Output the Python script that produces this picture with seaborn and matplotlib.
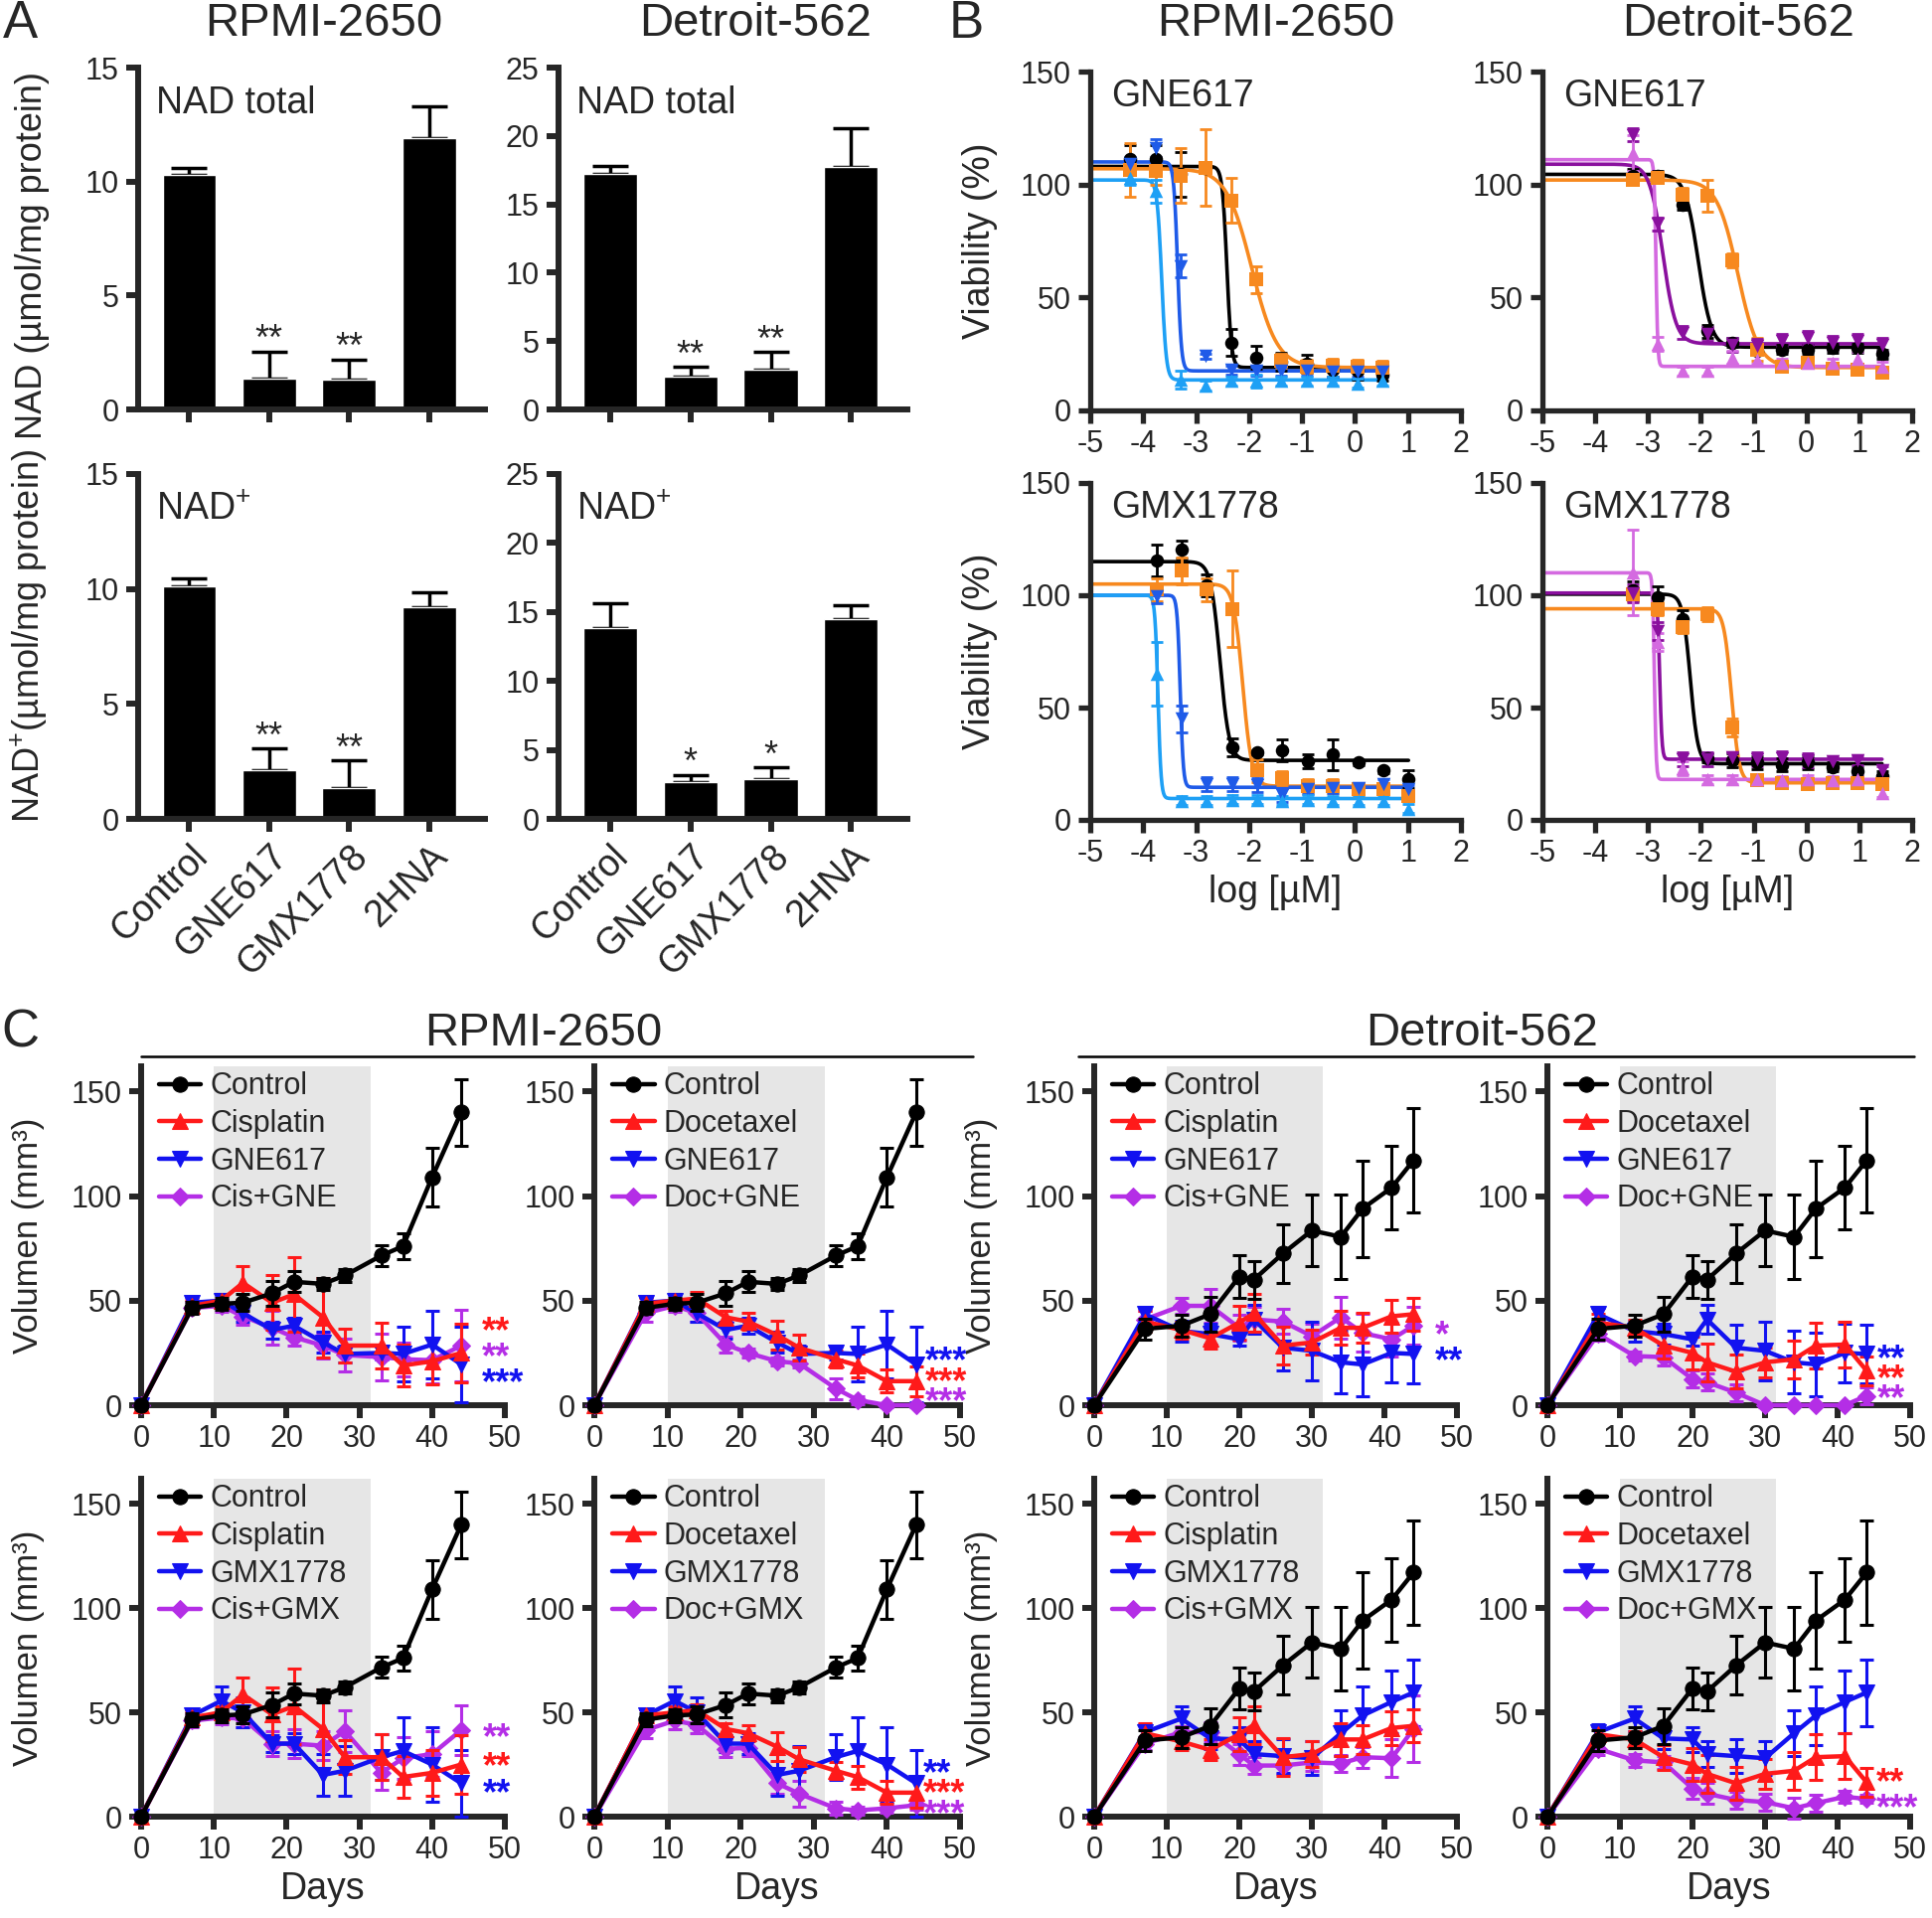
import numpy as np
import matplotlib
matplotlib.use("Agg")
import matplotlib.pyplot as plt
from matplotlib.lines import Line2D
import seaborn as sns

W, H = 1944, 1930

# ---------------- panel A: NAD levels ----------------
nad_groups = ['Control', 'GNE617', 'GMX1778', '2HNA']
nad_total_rpmi = [10.3, 1.35, 1.3, 11.9]
nad_total_rpmi_err = [0.3, 1.2, 0.9, 1.4]
nad_total_det = [17.2, 2.4, 2.9, 17.7]
nad_total_det_err = [0.6, 0.7, 1.3, 2.9]
nadp_rpmi = [10.1, 2.1, 1.35, 9.2]
nadp_rpmi_err = [0.35, 0.95, 1.2, 0.65]
nadp_det = [13.8, 2.7, 2.9, 14.5]
nadp_det_err = [1.8, 0.5, 0.85, 1.0]
stars_two = ['', '**', '**', '']
stars_one = ['', '*', '*', '']

# ---------------- panel B: dose response ----------------
dose_rpmi_gne = [-4.25, -3.77, -3.30, -2.82, -2.34, -1.86, -1.39, -0.91, -0.43, 0.04, 0.52]
dose_rpmi_gmx = [-3.75, -3.28, -2.80, -2.32, -1.85, -1.37, -0.89, -0.42, 0.06, 0.53, 1.01]
dose_det = [-3.28, -2.81, -2.34, -1.87, -1.40, -0.93, -0.46, 0.02, 0.49, 0.96, 1.43]

# RPMI-2650 / GNE617
v_rg_black = [111.5, 111.5, 104.5, 107.5, 30, 23.5, 21.5, 20.5, 18, 17.5, 16]
e_rg_black = [6, 6, 10, 2, 6, 5, 4, 4, 3, 4, 3]
v_rg_orange = [106.5, 106, 104, 107.5, 93, 58, 22, 19.5, 20, 19.5, 19]
e_rg_orange = [12, 6, 12, 17, 10, 6, 3, 3, 3, 3, 3]
v_rg_blue = [109, 116, 64, 24, 18, 17.5, 17.5, 17.5, 17, 17, 17]
e_rg_blue = [3, 4, 5, 1, 2, 2, 2, 2, 2, 2, 2]
v_rg_lblue = [103, 97, 13.5, 11, 13, 13, 13, 13, 13, 12, 13]
e_rg_lblue = [3, 5, 4, 2, 2, 3, 2, 2, 2, 2, 2]
# fit parameters: top, bottom, logIC50, hill
fit_rg = [(108, 19, -2.42, 10), (107, 19, -1.95, 1.8), (110, 17.5, -3.35, 12), (102, 13.5, -3.65, 10)]

# Detroit-562 / GNE617
v_dg_black = [104, 104, 91, 35, 30, 26.5, 27, 27, 27.5, 27.5, 25]
e_dg_black = [3, 2, 2, 3, 2, 2, 2, 2, 2, 2, 2]
v_dg_orange = [102, 103, 95.5, 95, 66.5, 27, 19.5, 21, 18.5, 18, 16.5]
e_dg_orange = [2, 2, 3, 7, 3, 5, 2, 2, 2, 2, 2]
v_dg_purple = [122, 82.5, 34.5, 34, 29, 28.5, 31, 32, 30, 31, 29]
e_dg_purple = [3, 3, 3, 3, 3, 3, 3, 3, 3, 3, 3]
v_dg_orchid = [114, 29.5, 17.5, 17.5, 23.5, 22.5, 21, 21, 21, 23, 19.5]
e_dg_orchid = [8, 3, 2, 2, 3, 2, 2, 2, 2, 3, 2]
fit_dg = [(104.5, 28, -2.05, 3.5), (102, 19, -1.3, 2.2), (109, 29.5, -2.72, 3.5), (111, 19.5, -2.85, 25)]

# RPMI-2650 / GMX1778
v_rx_black = [115.5, 120.5, 104.5, 32.5, 30, 31, 26, 29, 25.5, 22, 18]
e_rx_black = [7, 4, 5, 4, 1, 5, 3, 7, 1, 1, 4]
v_rx_orange = [102.5, 111, 102.5, 94, 22, 18.5, 15, 15, 13.5, 13.5, 10.5]
e_rx_orange = [5, 6, 5, 17, 5, 3, 3, 3, 3, 2, 2]
v_rx_blue = [99.5, 45, 16, 16, 15.5, 11, 13.5, 14, 14, 16, 13.5]
e_rx_blue = [3, 6, 3, 3, 3, 3, 2, 2, 2, 2, 2]
v_rx_lblue = [65, 8.5, 8.5, 9, 9, 8.5, 9, 8.5, 8.5, 8.5, 5]
e_rx_lblue = [14, 2, 2, 2, 2, 2, 2, 2, 2, 2, 2]
fit_rx = [(115, 26.5, -2.55, 5), (105, 15, -2.12, 5), (100, 14.5, -3.3, 15), (100, 9.5, -3.72, 15)]

# Detroit-562 / GMX1778
v_dx_black = [102, 99, 89.5, 27.5, 26.5, 25.5, 24.5, 25.5, 23.5, 21.5, 19.5]
e_dx_black = [4, 5, 4, 2, 3, 3, 3, 3, 2, 2, 2]
v_dx_orange = [100.5, 94, 86, 91.5, 41, 17.5, 16.5, 16, 16.5, 16.5, 16]
e_dx_orange = [3, 3, 3, 3, 4, 2, 2, 2, 2, 2, 2]
v_dx_purple = [101, 84, 27, 27, 28, 27, 27.5, 26.5, 26, 26.5, 22]
e_dx_purple = [4, 4, 3, 3, 2, 3, 3, 3, 2, 2, 2]
v_dx_orchid = [110, 79, 23, 18, 18, 18, 17.5, 18, 17.5, 18, 12]
e_dx_orchid = [19, 4, 3, 2, 2, 2, 2, 2, 2, 2, 2]
fit_dx = [(100.5, 25, -2.2, 6), (94, 16.5, -1.42, 6), (101, 27, -2.78, 20), (110, 18, -2.88, 25)]

# ---------------- panel C: tumour growth ----------------
days_rpmi = [0, 7, 11, 14, 18, 21, 25, 28, 33, 36, 40, 44]
days_det = [0, 7, 12, 16, 20, 22, 26, 30, 34, 37, 41, 44]

ctrl_rpmi = [0, 46.5, 48.5, 49, 53.5, 59, 58, 62, 71.5, 76, 109, 140]
ctrl_rpmi_err = [0, 3, 3, 4, 6, 5, 3, 3, 5, 6, 14, 16]
cis_rpmi = [0, 47.5, 50, 58.5, 49, 53, 42, 28.5, 28.5, 19, 21, 25]
cis_rpmi_err = [0, 3, 3, 8, 13, 18, 19, 8, 11, 10, 11, 14]
doc_rpmi = [0, 48.5, 50, 51, 42, 40, 33.5, 27.5, 22, 19, 11.5, 11.5]
doc_rpmi_err = [0, 3, 3, 3, 3, 4, 7, 6, 4, 5.5, 5.5, 7]
gne_rpmi = [0, 49, 50, 44, 36, 38, 30, 24.5, 25, 24.5, 29, 19.5]
gne_rpmi_err = [0, 3, 3, 4, 4, 4, 5, 4, 3, 13, 16, 18]
cisgne_rpmi = [0, 46.5, 47.5, 42.5, 37, 32.5, 28.5, 24, 23, 22, 21.5, 28.5]
cisgne_rpmi_err = [0, 3, 3, 4, 8, 4, 6, 8, 11, 8, 11, 17]
docgne_rpmi = [0, 44, 47.5, 44, 29, 25, 21, 20, 8, 2.5, 0, 0]
docgne_rpmi_err = [0, 4, 3, 4, 4, 2, 2, 2, 5, 2, 1, 1]
gmx_rpmi = [0, 48.5, 55.5, 50, 35, 35, 20, 22, 28.5, 31.5, 25, 16]
gmx_rpmi_err = [0, 3, 7, 7, 4, 5, 10, 12, 11, 16, 18, 16]
cisgmx_rpmi = [0, 46, 47.5, 47, 35, 35, 34, 41, 21, 28, 30, 41.5]
cisgmx_rpmi_err = [0, 3, 3, 4, 6, 7, 7, 10, 8, 10, 11, 12]
docgmx_rpmi = [0, 41.5, 46, 44, 32.5, 33, 16, 11, 4, 3, 4, 5.5]
docgmx_rpmi_err = [0, 4, 4, 4, 4, 4, 5, 6, 3, 2, 2, 2]

ctrl_det = [0, 36.5, 38, 43.5, 61.5, 60, 72.5, 83.5, 80.5, 94, 104, 117]
ctrl_det_err = [0, 5, 5, 8.5, 10, 9, 14, 17, 20, 23, 20, 25]
cis_det = [0, 40, 36, 32, 39.5, 44, 28.5, 30, 37, 37, 42.5, 43.5]
cis_det_err = [0, 5, 4, 5, 8, 9, 9, 6, 8, 7, 8, 8]
doc_det = [0, 39.5, 37, 28.5, 25, 20.5, 16, 20.5, 22, 28.5, 29, 16.5]
doc_det_err = [0, 4, 4, 6, 8, 9, 8, 7, 9, 11, 11, 7]
gne_det = [0, 43.5, 35.5, 34, 31.5, 41, 27.5, 26, 20.5, 19.5, 25, 24.5]
gne_det_err = [0, 3, 5, 5, 3, 7, 11, 14, 15, 15, 14, 14]
cisgne_det = [0, 41, 47.5, 47.5, 37, 41, 40, 33, 42, 34.5, 31.5, 38]
cisgne_det_err = [0, 4, 4, 8, 6, 6, 6, 6, 10, 9, 8, 9]
docgne_det = [0, 34, 23.5, 23, 12.5, 11, 6, 0, 0, 0, 0, 4.5]
docgne_det_err = [0, 3, 2, 4, 4, 4, 4, 1, 0, 0, 0, 4]
gmx_det = [0, 40.5, 47, 37.5, 37, 30, 29, 28, 40, 48.5, 55, 59.5]
gmx_det_err = [0, 4, 6, 5, 6, 6, 8, 8, 11, 14, 15, 16]
cisgmx_det = [0, 35, 40.5, 40.5, 30, 24.5, 24.5, 26, 25.5, 28.5, 28, 42]
cisgmx_det_err = [0, 3, 3, 5, 5, 4, 4, 4, 4, 5, 9, 16]
docgmx_det = [0, 32.5, 27, 26, 13.5, 11, 8, 7, 4, 6.5, 9.5, 8.5]
docgmx_det_err = [0, 3, 3, 3, 5, 5, 4, 4, 5, 4, 3, 2]

# significance marks: (text, y, colour index)
stars_c1 = [('**', 40.5, 1), ('**', 28, 3), ('***', 15.5, 2)]
stars_c2 = [('***', 26, 2), ('***', 16, 1), ('***', 6.5, 3)]
stars_c3 = [('*', 38.5, 3), ('**', 26, 2)]
stars_c4 = [('**', 27, 2), ('**', 17.5, 1), ('**', 8, 3)]
stars_c5 = [('**', 43, 3), ('**', 29, 1), ('**', 16, 2)]
stars_c6 = [('**', 25.5, 2), ('***', 16, 1), ('***', 6.3, 3)]
stars_c7 = []
stars_c8 = [('**', 21.5, 1), ('***', 9, 3)]

# ---------------- styling ----------------
sns.set_style('ticks')
plt.rcParams['font.family'] = ['Liberation Sans', 'DejaVu Sans']
plt.rcParams['axes.unicode_minus'] = False
plt.rcParams['mathtext.fontset'] = 'custom'
plt.rcParams['mathtext.rm'] = 'Liberation Sans'
plt.rcParams['mathtext.it'] = 'Liberation Sans'

ORANGE = '#f7891f'
BLUE_D = '#1f5be8'
BLUE_L = '#1ea0f5'
PURPLE = '#8a109e'
ORCHID = '#d46ae0'
C_COLORS = ['black', '#ff1a1a', '#1212f0', '#b42ee6']
C_MARKERS = ['o', '^', 'v', 'D']

fig = plt.figure(figsize=(W / 100, H / 100), dpi=100)


def px_axes(x0, y0, x1, y1):
    return fig.add_axes([x0 / W, 1 - y1 / H, (x1 - x0) / W, (y1 - y0) / H])


def style_axes(ax, lw, labelsize):
    sns.despine(ax=ax)
    ax.spines['left'].set_linewidth(lw)
    ax.spines['bottom'].set_linewidth(lw)
    ax.tick_params(direction='out', length=9, width=lw, labelsize=labelsize, pad=5)
    ax.set_facecolor('none')


def nad_panel(ax, vals, errs, stars, ymax, label, show_x):
    sns.barplot(x=nad_groups, y=vals, color='black', saturation=1, width=0.67,
                errorbar=None, ax=ax, zorder=2)
    xs = np.arange(len(vals))
    ax.errorbar(xs, vals, yerr=[np.zeros(len(errs)), errs], fmt='none', ecolor='black',
                elinewidth=2.5, capsize=13, capthick=2.5, zorder=1)
    for x, v, e, s in zip(xs, vals, errs, stars):
        if s:
            ax.annotate(s, xy=(x, v + e), xytext=(0, 16 - 0.58 * 26), textcoords='offset points',
                        ha='center', va='baseline', fontsize=26)
    ax.set_xlim(-0.64, 3.7)
    ax.set_ylim(0, ymax)
    ax.set_yticks(np.arange(0, ymax + 1, 5))
    ax.text(-0.42, 0.895 * ymax, label, fontsize=27, ha='left', va='center')
    ax.set_xlabel('')
    ax.set_ylabel('')
    style_axes(ax, 4.3, 22)
    ax.set_xticks(xs)
    if show_x:
        ax.set_xticklabels(nad_groups, rotation=45, ha='right', rotation_mode='anchor', fontsize=27)
    else:
        ax.set_xticklabels([])


def dose_panel(ax, dose, series, fits, drug, show_xlabel, show_ylabel):
    for (vals, errs, color, marker), (top, bottom, logic50, hill) in zip(series, fits):
        xs = np.linspace(-5, dose[-1], 400)
        ys = bottom + (top - bottom) / (1 + 10 ** ((xs - logic50) * hill))
        sns.lineplot(x=xs, y=ys, color=color, linewidth=2.6, ax=ax, zorder=2)
        ax.errorbar(dose, vals, yerr=errs, fmt='none', ecolor=color, elinewidth=2,
                    capsize=4, capthick=2, zorder=3)
        sns.scatterplot(x=dose, y=vals, color=color, marker=marker, s=95, edgecolor=color,
                        linewidth=0, ax=ax, zorder=4)
    ax.set_xlim(-5, 2)
    ax.set_ylim(0, 150)
    ax.set_xticks(range(-5, 3))
    ax.set_yticks([0, 50, 100, 150])
    ax.text(-4.6, 139, drug, fontsize=27, ha='left', va='center')
    style_axes(ax, 3.8, 22)
    ax.set_xlabel('log [µM]' if show_xlabel else '', fontsize=27)
    ax.set_ylabel('Viability (%)' if show_ylabel else '', fontsize=27)
    ax.yaxis.set_label_coords(-0.25, 0.5)


def growth_panel(ax, days, groups, labels, stars, star_x, show_xlabel, show_ylabel):
    ax.axvspan(10, 31.5, color='#e6e6e6', lw=0, zorder=0)
    zs = [6, 4, 3.5, 3]
    for i, (vals, errs) in enumerate(groups):
        col = C_COLORS[i]
        ax.errorbar(days, vals, yerr=errs, fmt='none', ecolor=col, elinewidth=2.2,
                    capsize=5, capthick=2.2, zorder=zs[i], clip_on=False)
        sns.lineplot(x=days, y=vals, color=col, marker=C_MARKERS[i],
                     markersize=9 if C_MARKERS[i] == 'D' else 11, markeredgecolor=col,
                     linewidth=3.2, label=labels[i], ax=ax, zorder=zs[i] + 0.5, clip_on=False)
    for txt, y, ci in stars:
        ax.annotate(txt, xy=(star_x, y), xytext=(0, -0.58 * 26), textcoords='offset points',
                    ha='left', va='baseline', fontsize=26, fontweight='bold',
                    color=C_COLORS[ci], annotation_clip=False)
    ax.set_xlim(0, 50)
    ax.set_ylim(0, 162)
    ax.set_xticks(range(0, 51, 10))
    ax.set_yticks([0, 50, 100, 150])
    style_axes(ax, 4.3, 22)
    ax.legend(loc='upper left', bbox_to_anchor=(0.015, 1.02), frameon=False, fontsize=22,
              handlelength=1.4, handletextpad=0.3, labelspacing=0.25, borderaxespad=0)
    ax.set_ylabel('Volumen (mm³)' if show_ylabel else '', fontsize=25)
    ax.yaxis.set_label_coords(-0.265, 0.5)
    ax.set_xlabel('Days' if show_xlabel else '', fontsize=27)


# ---------------- A ----------------
ax = px_axes(139, 68, 488, 412)
nad_panel(ax, nad_total_rpmi, nad_total_rpmi_err, stars_two, 15, 'NAD total', False)
ax.set_ylabel('NAD (µmol/mg protein)', fontsize=26)
ax.yaxis.set_label_coords(-0.255, 0.45)
ax = px_axes(562, 68, 913, 412)
nad_panel(ax, nad_total_det, nad_total_det_err, stars_two, 25, 'NAD total', False)
ax = px_axes(139, 477, 488, 824)
nad_panel(ax, nadp_rpmi, nadp_rpmi_err, stars_two, 15, 'NAD$^{+}$', True)
ax.set_ylabel('NAD$^{+}$(µmol/mg protein)', fontsize=26)
ax.yaxis.set_label_coords(-0.255, 0.53)
ax = px_axes(562, 477, 913, 824)
nad_panel(ax, nadp_det, nadp_det_err, stars_one, 25, 'NAD$^{+}$', True)

# ---------------- B ----------------
ax = px_axes(1097, 72, 1470, 413)
dose_panel(ax, dose_rpmi_gne,
           [(v_rg_black, e_rg_black, 'black', 'o'), (v_rg_orange, e_rg_orange, ORANGE, 's'),
            (v_rg_blue, e_rg_blue, BLUE_D, 'v'), (v_rg_lblue, e_rg_lblue, BLUE_L, '^')],
           fit_rg, 'GNE617', False, True)
ax = px_axes(1552, 72, 1924, 413)
dose_panel(ax, dose_det,
           [(v_dg_black, e_dg_black, 'black', 'o'), (v_dg_orange, e_dg_orange, ORANGE, 's'),
            (v_dg_purple, e_dg_purple, PURPLE, 'v'), (v_dg_orchid, e_dg_orchid, ORCHID, '^')],
           fit_dg, 'GNE617', False, False)
ax = px_axes(1097, 486, 1470, 825)
dose_panel(ax, dose_rpmi_gmx,
           [(v_rx_black, e_rx_black, 'black', 'o'), (v_rx_orange, e_rx_orange, ORANGE, 's'),
            (v_rx_blue, e_rx_blue, BLUE_D, 'v'), (v_rx_lblue, e_rx_lblue, BLUE_L, '^')],
           fit_rx, 'GMX1778', True, True)
ax = px_axes(1552, 486, 1924, 825)
dose_panel(ax, dose_det,
           [(v_dx_black, e_dx_black, 'black', 'o'), (v_dx_orange, e_dx_orange, ORANGE, 's'),
            (v_dx_purple, e_dx_purple, PURPLE, 'v'), (v_dx_orchid, e_dx_orchid, ORCHID, '^')],
           fit_dx, 'GMX1778', True, False)

# ---------------- C ----------------
cols = [(142, 508), (598, 966), (1101, 1466), (1557, 1922)]
rows = [(1073, 1414), (1488, 1828)]
c_specs = [
    (0, 0, days_rpmi, [(ctrl_rpmi, ctrl_rpmi_err), (cis_rpmi, cis_rpmi_err), (gne_rpmi, gne_rpmi_err), (cisgne_rpmi, cisgne_rpmi_err)],
     ['Control', 'Cisplatin', 'GNE617', 'Cis+GNE'], stars_c1, 46.8),
    (0, 1, days_rpmi, [(ctrl_rpmi, ctrl_rpmi_err), (doc_rpmi, doc_rpmi_err), (gne_rpmi, gne_rpmi_err), (docgne_rpmi, docgne_rpmi_err)],
     ['Control', 'Docetaxel', 'GNE617', 'Doc+GNE'], stars_c2, 45.2),
    (0, 2, days_det, [(ctrl_det, ctrl_det_err), (cis_det, cis_det_err), (gne_det, gne_det_err), (cisgne_det, cisgne_det_err)],
     ['Control', 'Cisplatin', 'GNE617', 'Cis+GNE'], stars_c3, 47.0),
    (0, 3, days_det, [(ctrl_det, ctrl_det_err), (doc_det, doc_det_err), (gne_det, gne_det_err), (docgne_det, docgne_det_err)],
     ['Control', 'Docetaxel', 'GNE617', 'Doc+GNE'], stars_c4, 45.5),
    (1, 0, days_rpmi, [(ctrl_rpmi, ctrl_rpmi_err), (cis_rpmi, cis_rpmi_err), (gmx_rpmi, gmx_rpmi_err), (cisgmx_rpmi, cisgmx_rpmi_err)],
     ['Control', 'Cisplatin', 'GMX1778', 'Cis+GMX'], stars_c5, 47.0),
    (1, 1, days_rpmi, [(ctrl_rpmi, ctrl_rpmi_err), (doc_rpmi, doc_rpmi_err), (gmx_rpmi, gmx_rpmi_err), (docgmx_rpmi, docgmx_rpmi_err)],
     ['Control', 'Docetaxel', 'GMX1778', 'Doc+GMX'], stars_c6, 45.0),
    (1, 2, days_det, [(ctrl_det, ctrl_det_err), (cis_det, cis_det_err), (gmx_det, gmx_det_err), (cisgmx_det, cisgmx_det_err)],
     ['Control', 'Cisplatin', 'GMX1778', 'Cis+GMX'], stars_c7, 47.0),
    (1, 3, days_det, [(ctrl_det, ctrl_det_err), (doc_det, doc_det_err), (gmx_det, gmx_det_err), (docgmx_det, docgmx_det_err)],
     ['Control', 'Docetaxel', 'GMX1778', 'Doc+GMX'], stars_c8, 45.3),
]
for r, c, days, groups, labels, stars, sx in c_specs:
    x0, x1 = cols[c]
    y0, y1 = rows[r]
    ax = px_axes(x0, y0, x1, y1)
    growth_panel(ax, days, groups, labels, stars, sx, r == 1, c in (0, 2))

# ---------------- figure labels ----------------
fig.text(20 / W, 1 - 24 / H, 'A', fontsize=38, ha='center', va='center')
fig.text(972 / W, 1 - 24 / H, 'B', fontsize=38, ha='center', va='center')
fig.text(20 / W, 1 - 1040 / H, 'C', fontsize=38, ha='center', va='center')
for x, t in [(326, 'RPMI-2650'), (760, 'Detroit-562'), (1284, 'RPMI-2650'), (1749, 'Detroit-562')]:
    fig.text(x / W, 1 - 24 / H, t, fontsize=34, ha='center', va='center')
for x, t in [(547, 'RPMI-2650'), (1491, 'Detroit-562')]:
    fig.text(x / W, 1 - 1040 / H, t, fontsize=34, ha='center', va='center')
for xa, xb in [(142, 979), (1085, 1926)]:
    fig.add_artist(Line2D([xa / W, xb / W], [1 - 1063 / H, 1 - 1063 / H], color='black', lw=1.8))

fig.savefig('out.png', dpi=100)
